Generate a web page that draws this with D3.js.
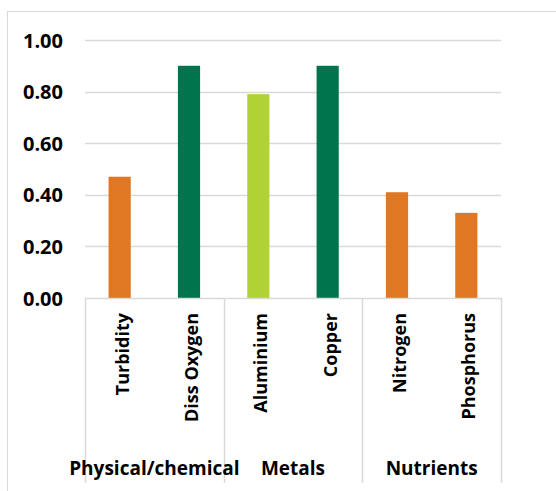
<!DOCTYPE html>
<html>
<head>
<meta charset="utf-8">
<script src="https://cdn.jsdelivr.net/npm/d3@7"></script>
<style>
  body { margin: 0; background: #fff; }
  svg { display: block; }
  text { font-family: "Open Sans", sans-serif; font-weight: bold; fill: #000; }
</style>
</head>
<body>
<svg id="chart" width="556" height="491"></svg>
<script>
var categories = ['Turbidity', 'Diss Oxygen', 'Aluminium', 'Copper', 'Nitrogen', 'Phosphorus'];
var groups = ['Physical/chemical', 'Physical/chemical', 'Metals', 'Metals', 'Nutrients', 'Nutrients'];
var values = [0.47, 0.90, 0.79, 0.90, 0.41, 0.33];
var barColors = ['#e07722', '#00754d', '#b1d235', '#00754d', '#e07722', '#e07722'];
var yTicks = [0, 0.2, 0.4, 0.6, 0.8, 1.0];

var svg = d3.select('#chart');
var margin = { top: 40, left: 85, right: 55, bottom: 193 };
var width = 556 - margin.left - margin.right,
	height = 491 - margin.top - margin.bottom;

// chart frame
svg.append('rect')
	.attr('x', 7.5).attr('y', 11.5)
	.attr('width', 560).attr('height', 500)
	.attr('fill', 'none').attr('stroke', '#d9d9d9');

var g = svg.append('g').attr('transform', 'translate(' + margin.left + ',' + margin.top + ')');

var x = d3.scaleBand().domain(categories).range([0, width]).paddingInner(0.68).paddingOuter(0.34);
var y = d3.scaleLinear().domain([0, 1]).range([height, 0]);

// gridlines
g.append('g')
	.selectAll('line')
	.data(yTicks.slice(1))
	.enter()
	.append('line')
	.attr('x1', 0).attr('x2', width)
	.attr('y1', function(d) { return Math.round(y(d)) + 0.5; })
	.attr('y2', function(d) { return Math.round(y(d)) + 0.5; })
	.attr('stroke', '#d9d9d9')
	.attr('stroke-width', 1.5);

// y axis labels
var yAxis = g.append('g').call(
	d3.axisLeft(y).tickValues(yTicks).tickSize(0).tickPadding(22).tickFormat(d3.format('.2f'))
);
yAxis.select('.domain').remove();
yAxis.selectAll('text').style('font-size', '20px').attr('dy', '0.35em').attr('fill', '#000');

// bars
g.selectAll('.bar')
	.data(values)
	.enter()
	.append('rect')
	.attr('class', 'bar')
	.attr('x', function(d, i) { return x(categories[i]); })
	.attr('width', x.bandwidth())
	.attr('y', function(d) { return y(d); })
	.attr('height', function(d) { return height - y(d); })
	.attr('fill', function(d, i) { return barColors[i]; });

// x axis line
g.append('line')
	.attr('x1', 0).attr('x2', width)
	.attr('y1', height + 0.5).attr('y2', height + 0.5)
	.attr('stroke', '#d9d9d9').attr('stroke-width', 1.5);

// group separators
var groupNames = [];
groups.forEach(function(d) { if (groupNames.indexOf(d) < 0) groupNames.push(d); });
var step = width / categories.length;
var bounds = [0];
groupNames.forEach(function(name) {
	var last = groups.lastIndexOf(name);
	bounds.push((last + 1) * step);
});

g.selectAll('.sep')
	.data(bounds)
	.enter()
	.append('line')
	.attr('class', 'sep')
	.attr('x1', function(d) { return Math.round(d) + 0.5; })
	.attr('x2', function(d) { return Math.round(d) + 0.5; })
	.attr('y1', height).attr('y2', height + 185)
	.attr('stroke', '#d9d9d9').attr('stroke-width', 1.5);

// category labels (rotated)
g.selectAll('.cat')
	.data(categories)
	.enter()
	.append('text')
	.attr('class', 'cat')
	.attr('transform', function(d) {
		return 'translate(' + (x(d) + x.bandwidth() / 2 + 9) + ',' + (height + 15) + ') rotate(-90)';
	})
	.attr('text-anchor', 'end')
	.style('font-size', '18px')
	.text(function(d) { return d; });

// group labels
g.selectAll('.grp')
	.data(groupNames)
	.enter()
	.append('text')
	.attr('class', 'grp')
	.attr('x', function(d, i) { return (bounds[i] + bounds[i + 1]) / 2; })
	.attr('y', height + 177)
	.attr('text-anchor', 'middle')
	.style('font-size', '19px')
	.text(function(d) { return d; });
</script>
</body>
</html>
